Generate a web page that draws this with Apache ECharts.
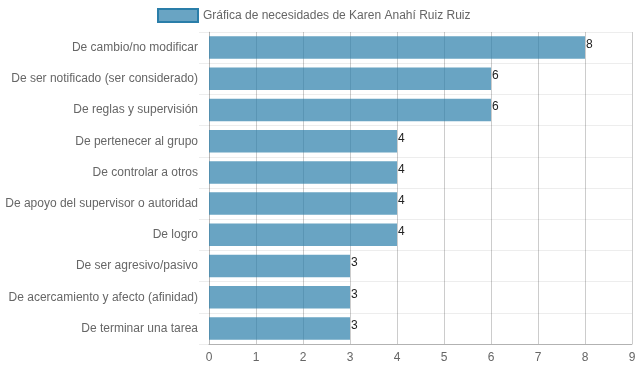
<!DOCTYPE html>
<html><head><meta charset="utf-8">
<script src="https://cdn.jsdelivr.net/npm/echarts@6/dist/echarts.min.js"></script>
<style>html,body{margin:0;padding:0;background:#fff}#c{width:639px;height:372px}</style>
</head><body><div id="c"></div>
<script>
const categories = ["De cambio/no modificar","De ser notificado (ser considerado)","De reglas y supervisión","De pertenecer al grupo","De controlar a otros","De apoyo del supervisor o autoridad","De logro","De ser agresivo/pasivo","De acercamiento y afecto (afinidad)","De terminar una tarea"];
const values = [8,6,6,4,4,4,4,3,3,3];
const seriesName = "Gráfica de necesidades de Karen Anahí Ruiz Ruiz";
const font = "'Liberation Sans', Arial, sans-serif";
const chart = echarts.init(document.getElementById('c'), null, {renderer:'canvas'});
chart.setOption({
  animation:false,
  legend:{top:3,left:152,itemWidth:40,itemHeight:13,itemGap:6,
    textStyle:{color:'#666',fontSize:12,fontFamily:font},
    data:[{name:seriesName,icon:'rect',itemStyle:{color:'rgba(42,126,169,0.7)',borderColor:'#2a7ea9',borderWidth:2}}]},
  grid:{left:209,right:7,top:32,bottom:28,containLabel:false},
  xAxis:{type:'value',min:0,max:9,interval:1,
    axisLine:{show:true,lineStyle:{color:'rgba(0,0,0,0.25)'}},
    axisTick:{show:false},
    axisLabel:{color:'#666',fontSize:12,fontFamily:font,margin:8},
    splitLine:{show:true,lineStyle:{color:'rgba(0,0,0,0.2)'}}},
  yAxis:{type:'category',data:categories,inverse:true,
    axisLine:{show:true,lineStyle:{color:'rgba(0,0,0,0.1)'}},
    axisTick:{show:true,length:10,lineStyle:{color:'rgba(0,0,0,0.07)'}},
    axisLabel:{color:'#666',fontSize:12,fontFamily:font,margin:11},
    splitLine:{show:true,lineStyle:{color:'rgba(0,0,0,0.07)'}}},
  series:[{name:seriesName,type:'bar',data:values,barCategoryGap:'28%',
    itemStyle:{color:'rgba(42,126,169,0.7)'},
    label:{show:true,position:'right',distance:1,offset:[0,-3],color:'#222',fontSize:12,fontFamily:font}}]
});
</script></body></html>
